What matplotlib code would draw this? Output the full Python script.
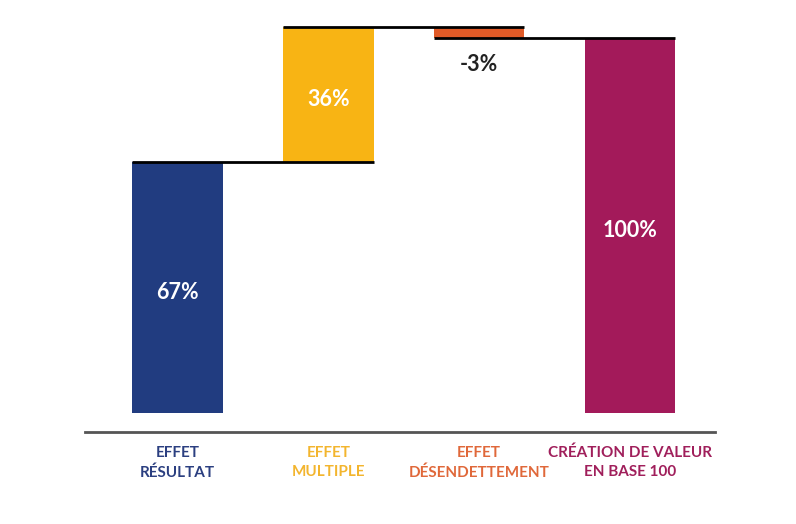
import matplotlib.pyplot as plt

plt.rcParams['font.family'] = ['Lato', 'DejaVu Sans']

categories = ['EFFET\nRÉSULTAT', 'EFFET\nMULTIPLE', 'EFFET\nDÉSENDETTEMENT', 'CRÉATION DE VALEUR\nEN BASE 100']
steps = [67, 36, -3]
total = 100
value_labels = ['67%', '36%', '-3%', '100%']
bar_colors = ['#213C80', '#F8B414', '#E05A27', '#A31A5A']
label_colors = ['#2B3F80', '#F3B52E', '#E0683A', '#A01F5B']

# cumulative bottoms / heights for the waterfall
bottoms, heights, levels = [], [], []
running = 0
for s in steps:
    if s >= 0:
        bottoms.append(running)
        heights.append(s)
    else:
        bottoms.append(running + s)
        heights.append(-s)
    running += s
    levels.append(running)
bottoms.append(0)
heights.append(total)

fig = plt.figure(figsize=(7.96, 5.24), dpi=100)
ax = fig.add_axes([0.1068, 0.1756, 0.7915, 0.8054])

width = 0.6
x = list(range(len(categories)))
ax.bar(x, heights, bottom=bottoms, width=width, color=bar_colors, zorder=2)

# connector lines: from this bar's left edge to next bar's right edge
for i, lvl in enumerate(levels):
    ax.hlines(lvl, i - width / 2, i + 1 + width / 2, color='black', lw=2, zorder=3)

for i, txt in enumerate(value_labels):
    if i == 2:
        ax.text(i, bottoms[i] - 7, txt, ha='center', va='center',
                fontsize=15.5, fontweight='bold', color='#222222')
    else:
        ax.text(i, bottoms[i] + heights[i] / 2 - 1.3, txt, ha='center', va='center',
                fontsize=15.5, fontweight='bold', color='white')

ax.set_xlim(-0.614, 3.564)
ax.set_ylim(-5.07, 107.5)
ax.set_yticks([])
ax.set_xticks(x)
ax.set_xticklabels(categories, fontsize=11, fontweight='bold', linespacing=1.45)
for lab, c in zip(ax.get_xticklabels(), label_colors):
    lab.set_color(c)
ax.tick_params(axis='x', length=0, pad=10)
for sp in ['top', 'left', 'right']:
    ax.spines[sp].set_visible(False)
ax.spines['bottom'].set_color('#555555')
ax.spines['bottom'].set_linewidth(2)

fig.savefig('out.png', dpi=100)
